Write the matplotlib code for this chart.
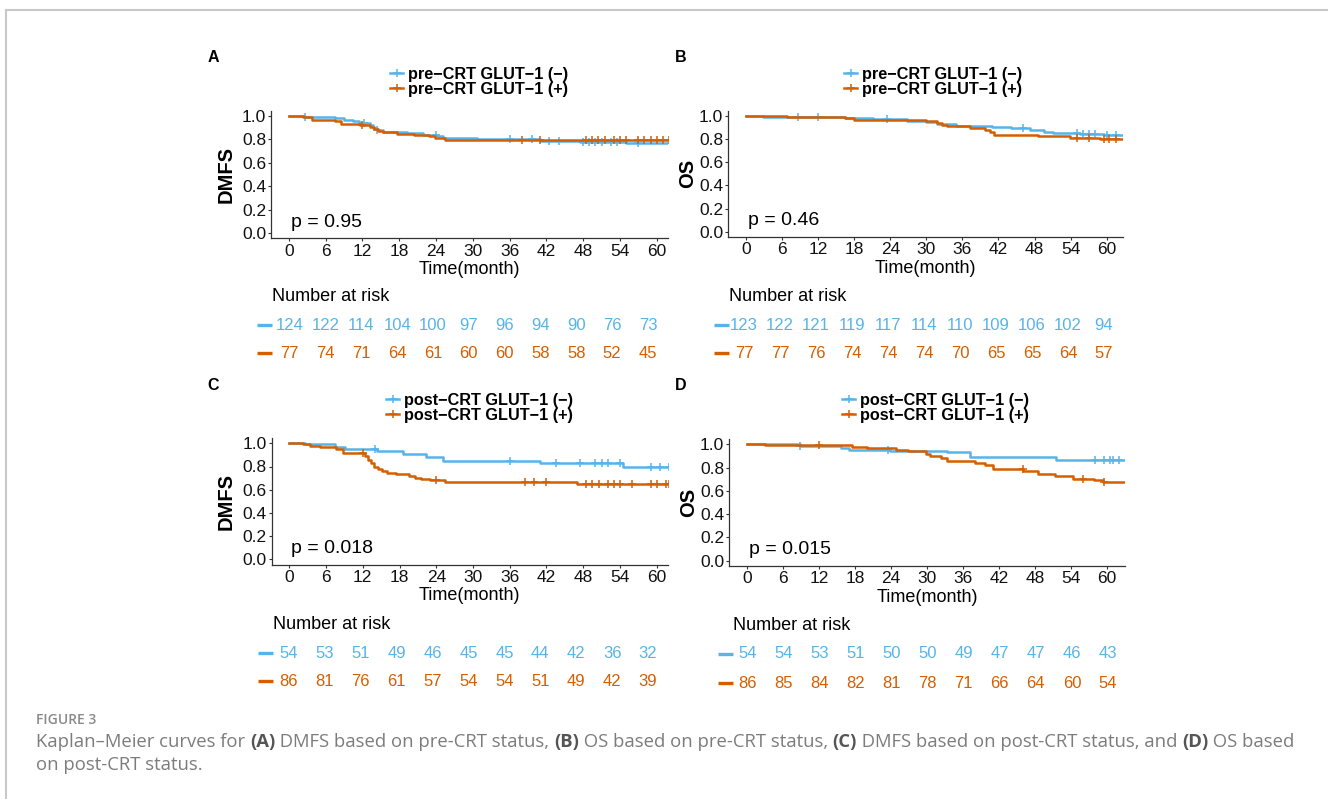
import numpy as np
import matplotlib
matplotlib.use("Agg")
import matplotlib.pyplot as plt
from matplotlib.lines import Line2D

# ---- data ----
tick_months = [0, 6, 12, 18, 24, 30, 36, 42, 48, 54, 60]
follow_up_end = 64.0

# A: DMFS, pre-CRT
A_neg_t = [0, 2.6, 7.5, 9.0, 10.5, 11.5, 13.2, 13.8, 14.4, 15.4, 19.3, 21.9, 24.3, 25.2, 30.7, 41.0, 47.5, 55.0]
A_neg_s = [1.0, 0.99, 0.98, 0.97, 0.955, 0.94, 0.92, 0.90, 0.88, 0.865, 0.855, 0.84, 0.825, 0.81, 0.80, 0.79, 0.78, 0.77]
A_neg_cens = [2.7, 12.2, 14.4, 24.0, 36.0, 39.6, 42.5, 44.0, 48.0, 49.0, 50.0, 51.0, 52.5, 53.5, 57.0]
A_pos_t = [0, 2.4, 3.8, 7.5, 8.6, 11.6, 13.3, 13.9, 14.6, 15.4, 17.6, 20.5, 22.8, 23.9, 25.5]
A_pos_s = [1.0, 0.99, 0.97, 0.955, 0.935, 0.925, 0.905, 0.885, 0.87, 0.86, 0.85, 0.84, 0.825, 0.81, 0.795]
A_pos_cens = [12.0, 38.0, 41.0, 48.5, 49.5, 50.5, 51.5, 53.0, 54.0, 55.0, 57.0, 58.0, 59.0, 60.0, 61.0, 62.0]
A_neg_risk = [124, 122, 114, 104, 100, 97, 96, 94, 90, 76, 73]
A_pos_risk = [77, 74, 71, 64, 61, 60, 60, 58, 58, 52, 45]

# B: OS, pre-CRT
B_neg_t = [0, 2.9, 16.5, 21.2, 26.7, 30.0, 31.7, 35.0, 41.0, 44.0, 47.3, 49.5, 51.0, 55.6, 59.5]
B_neg_s = [1.0, 0.995, 0.985, 0.975, 0.96, 0.945, 0.93, 0.915, 0.905, 0.895, 0.88, 0.865, 0.85, 0.845, 0.84]
B_neg_cens = [8.6, 12.0, 23.5, 46.0, 55.0, 56.0, 57.0, 58.0, 60.0, 61.5]
B_pos_t = [0, 6.8, 16.5, 17.9, 30.0, 31.7, 32.6, 33.4, 37.3, 39.8, 40.6, 41.2, 48.6, 53.9, 58.9]
B_pos_s = [1.0, 0.995, 0.98, 0.965, 0.955, 0.94, 0.925, 0.91, 0.895, 0.875, 0.86, 0.84, 0.825, 0.81, 0.80]
B_pos_cens = [55.0, 57.0, 59.5, 60.3, 61.5]
B_neg_risk = [123, 122, 121, 119, 117, 114, 110, 109, 106, 102, 94]
B_pos_risk = [77, 77, 76, 74, 74, 74, 70, 65, 65, 64, 57]

# C: DMFS, post-CRT
C_neg_t = [0, 2.6, 7.5, 9.1, 14.3, 18.6, 22.4, 25.1, 40.9, 54.5]
C_neg_s = [1.0, 0.99, 0.97, 0.95, 0.93, 0.905, 0.88, 0.85, 0.83, 0.80]
C_neg_cens = [14.0, 36.0, 43.5, 47.5, 50.0, 51.0, 52.0, 54.0, 59.0, 60.5, 62.0]
C_pos_t = [0, 2.3, 3.4, 5.0, 7.7, 8.8, 12.3, 12.8, 13.3, 13.8, 14.5, 15.2, 16.0, 17.5, 19.5, 20.6, 21.5, 23.0, 25.4, 47.0]
C_pos_s = [1.0, 0.99, 0.975, 0.965, 0.95, 0.92, 0.89, 0.86, 0.83, 0.80, 0.78, 0.76, 0.745, 0.735, 0.72, 0.705, 0.695, 0.685, 0.665, 0.645]
C_pos_cens = [12.0, 24.0, 38.5, 40.0, 42.0, 48.5, 49.5, 50.5, 52.0, 53.0, 54.0, 56.0, 59.0, 60.0, 61.5, 62.0]
C_neg_risk = [54, 53, 51, 49, 46, 45, 45, 44, 42, 36, 32]
C_pos_risk = [86, 81, 76, 61, 57, 54, 54, 51, 49, 42, 39]

# D: OS, post-CRT
D_neg_t = [0, 8.8, 15.7, 16.9, 23.8, 33.3, 37.2, 51.6]
D_neg_s = [1.0, 0.985, 0.97, 0.95, 0.945, 0.93, 0.89, 0.865]
D_neg_cens = [8.8, 23.5, 58.0, 59.5, 60.5, 61.0, 62.0]
D_pos_t = [0, 2.9, 17.4, 19.9, 24.9, 26.9, 29.9, 30.5, 32.4, 33.3, 38.0, 39.7, 41.1, 46.1, 48.6, 51.4, 54.4, 57.8, 59.4]
D_pos_s = [1.0, 0.99, 0.98, 0.97, 0.955, 0.94, 0.92, 0.90, 0.88, 0.86, 0.84, 0.82, 0.79, 0.77, 0.745, 0.725, 0.705, 0.69, 0.675]
D_pos_cens = [12.0, 46.0, 56.0, 59.5]
D_neg_risk = [54, 54, 53, 51, 50, 50, 49, 47, 47, 46, 43]
D_pos_risk = [86, 85, 84, 82, 81, 78, 71, 66, 64, 60, 54]

BLUE = "#56B4E9"
ORANGE = "#D55E00"

plt.rcParams["font.family"] = ["Liberation Sans", "DejaVu Sans"]

W, H = 1328, 799
fig = plt.figure(figsize=(W / 100, H / 100), dpi=100)


def px_axes(left, top, right, bottom):
    return fig.add_axes([left / W, 1 - bottom / H, (right - left) / W, (bottom - top) / H])


def surv_at(t, times, surv):
    idx = np.searchsorted(times, t, side="right") - 1
    return np.asarray(surv)[idx]


def km_panel(geo, curves, labels, ylabel, pval, ylab_x, leg_xy):
    x0, x60, y0, y1, left, right = geo
    ppm = (x60 - x0) / 60
    ppv = y0 - y1
    ax = px_axes(left, y0 - 1.045 * ppv, right, y0 + 0.045 * ppv)
    ax.set_xlim((left - x0) / ppm, (right - x0) / ppm)
    ax.set_ylim(-0.045, 1.045)

    handles = []
    for (times, surv, cens), color in zip(curves, [BLUE, ORANGE]):
        ax.step(np.append(times, follow_up_end), np.append(surv, surv[-1]),
                where="post", color=color, lw=1.8)
        ax.plot(cens, surv_at(cens, times, surv), ls="none", marker="+",
                ms=5.5, mew=1.1, color=color)
        handles.append(Line2D([], [], color=color, lw=1.8, marker="+", ms=5.5, mew=1.1))

    ax.set_xticks(tick_months)
    ax.set_yticks([0, 0.2, 0.4, 0.6, 0.8, 1.0])
    ax.set_yticklabels(["0.0", "0.2", "0.4", "0.6", "0.8", "1.0"])
    ax.tick_params(labelsize=12.5, length=2.5, width=0.8, color="#333333", labelcolor="#111111")
    ax.tick_params(axis="x", pad=1.5)
    ax.tick_params(axis="y", pad=1)
    for side in ["top", "right"]:
        ax.spines[side].set_visible(False)
    for side in ["left", "bottom"]:
        ax.spines[side].set_color("#333333")
        ax.spines[side].set_linewidth(0.9)

    ax.set_xlabel("Time(month)", fontsize=13, labelpad=1.5)
    ax.set_ylabel(ylabel, fontsize=14.5, fontweight="bold")
    ax.yaxis.set_label_coords((ylab_x - left) / (right - left), 0.5)
    ax.text(0.3, 0.055, pval, fontsize=14, va="baseline", ha="left")

    ax.legend(handles, labels, loc="upper left",
              bbox_to_anchor=(leg_xy[0] / W, 1 - leg_xy[1] / H),
              bbox_transform=fig.transFigure, frameon=False, borderpad=0, borderaxespad=0,
              handlelength=0.8, handletextpad=0.3, labelspacing=0.0,
              prop={"size": 11.7, "weight": "bold"})
    return ax


def risk_table(geo, counts):
    x0, x60, row_top, row_bot, left, right = geo
    ppm = (x60 - x0) / 60
    ax = px_axes(left, row_top, right, row_bot)
    ax.set_xlim((left - x0) / ppm, (right - x0) / ppm)
    ax.set_ylim(0, 1)
    ax.axis("off")
    seg = -15 / (right - left)
    for row, (vals, color) in zip([1, 0], zip(counts, [BLUE, ORANGE])):
        # strata key: short coloured bar left of the row
        ax.plot([seg, 0], [row, row], transform=ax.get_yaxis_transform(), color=color,
                lw=2.4, solid_capstyle="butt", clip_on=False)
        for t, n in zip(tick_months, vals):
            ax.text(t, row, str(n), ha="center", va="center", color=color,
                    fontsize=12, clip_on=False)
    ax.set_title("Number at risk", loc="left", fontsize=13, pad=17)
    return ax


pre_labels = ["pre\u2212CRT GLUT\u22121 (\u2212)", "pre\u2212CRT GLUT\u22121 (+)"]
post_labels = ["post\u2212CRT GLUT\u22121 (\u2212)", "post\u2212CRT GLUT\u22121 (+)"]

km_panel((288.7, 656.7, 233.0, 116.0, 271, 668),
         [(A_neg_t, A_neg_s, A_neg_cens), (A_pos_t, A_pos_s, A_pos_cens)],
         pre_labels, "DMFS", "p = 0.95", 236, (390, 67))
km_panel((746.0, 1106.7, 231.7, 116.0, 728, 1123),
         [(B_neg_t, B_neg_s, B_neg_cens), (B_pos_t, B_pos_s, B_pos_cens)],
         pre_labels, "OS", "p = 0.46", 697, (844, 67))
km_panel((289.3, 656.7, 559.3, 443.3, 271.7, 668),
         [(C_neg_t, C_neg_s, C_neg_cens), (C_pos_t, C_pos_s, C_pos_cens)],
         post_labels, "DMFS", "p = 0.018", 236, (386, 393))
km_panel((747.3, 1106.7, 560.7, 444.3, 729, 1125),
         [(D_neg_t, D_neg_s, D_neg_cens), (D_pos_t, D_pos_s, D_pos_cens)],
         post_labels, "OS", "p = 0.015", 698, (842, 393))

risk_table((289.7, 648.0, 325, 353, 272, 668), [A_neg_risk, A_pos_risk])
risk_table((744.0, 1104.0, 325, 353, 729, 1123), [B_neg_risk, B_pos_risk])
risk_table((289.0, 648.0, 653, 681, 273, 668), [C_neg_risk, C_pos_risk])
risk_table((747.3, 1108.0, 654, 683, 733, 1125), [D_neg_risk, D_pos_risk])

# panel letters
for letter, (x, y) in zip("ABCD", [(213, 57), (681, 57), (213, 385), (681, 385)]):
    fig.text(x / W, 1 - y / H, letter, fontsize=11.5, fontweight="bold", ha="center", va="center")

# frame lines of the figure box
fig.add_artist(Line2D([6 / W, 1], [1 - 10 / H, 1 - 10 / H], transform=fig.transFigure,
                      color="#c8c8c8", lw=1.5))
fig.add_artist(Line2D([6 / W, 6 / W], [0, 1 - 10 / H], transform=fig.transFigure,
                      color="#c8c8c8", lw=1.5))

# caption
renderer = fig.canvas.get_renderer()


def rich_line(x, y, parts, size):
    for s, bold in parts:
        t = fig.text(x / W, 1 - y / H, s, fontsize=size, family="Open Sans",
                     fontweight="bold" if bold else "normal",
                     color="#555555" if bold else "#7c7c7c", ha="left", va="center")
        x += t.get_window_extent(renderer=renderer).width


fig.text(36 / W, 1 - 720 / H, "FIGURE 3", fontsize=10, family="Open Sans", fontweight="semibold",
         color="#8a8a8a", ha="left", va="center")
rich_line(36, 742, [("Kaplan\u2013Meier curves for ", False), ("(A)", True),
                    (" DMFS based on pre-CRT status, ", False), ("(B)", True),
                    (" OS based on pre-CRT status, ", False), ("(C)", True),
                    (" DMFS based on post-CRT status, and ", False), ("(D)", True),
                    (" OS based", False)], 13.3)
rich_line(36, 765, [("on post-CRT status.", False)], 13.3)

fig.savefig("out.png", dpi=100)
